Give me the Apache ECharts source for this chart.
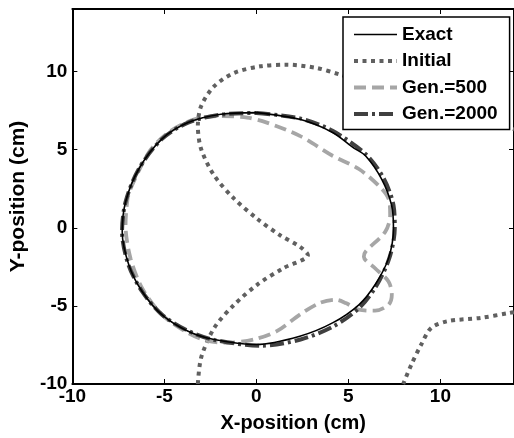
<!DOCTYPE html>
<html>
<head>
<meta charset="utf-8">
<script src="https://cdn.jsdelivr.net/npm/echarts@6/dist/echarts.min.js"></script>
<style>html,body{margin:0;padding:0;background:#fff;}#chart{width:514px;height:438px;}</style>
</head>
<body>
<div id="chart"></div>
<script>
// Series names
const seriesNames = ['Exact', 'Initial', 'Gen.=500', 'Gen.=2000'];
// Axis settings
const xRange = [-10, 14];
const yRange = [-10, 14];
const tickStep = 5;
const xTitle = 'X-position (cm)';
const yTitle = 'Y-position (cm)';

// Exact contour [x, y]
const exactData = [
  [0, 7.37], [2.36, 6.94], [4.14, 6.1], [5.3, 5.1], [5.93, 4.61], [6.8, 3.13], [7.35, 1.43], [7.45, -0.05],
  [7.18, -1.96], [6.45, -3.65], [5.57, -4.93], [4.14, -6.09], [2.36, -6.94], [0, -7.47],
  [-2.29, -7.15], [-3.71, -6.62], [-5.14, -5.56], [-6.21, -4.08], [-6.93, -2.38], [-7.29, -0.26],
  [-7.11, 1.65], [-6.39, 3.76], [-5.14, 5.67], [-3.71, 6.73], [-1.93, 7.26], [0, 7.37]
];

// Initial contour (two visible pieces, null = break)
const initialData = [
  [-3.18, -10], [-3.0, -8.31], [-2.29, -6.41], [-1.21, -4.93], [0.04, -3.65], [1.46, -2.59], [2.8, -1.75],
  [2.36, -1.21], [1.29, -0.48], [0.04, 0.58], [-1.21, 1.86], [-2.29, 3.34], [-3.0, 5.03], [-3.18, 6.52],
  [-3.0, 7.79], [-2.29, 9.06], [-1.21, 9.91], [0.21, 10.33], [1.64, 10.44], [3.25, 10.23], [4.54, 9.8],
  [7.0, 8.9], [10.0, 7.7], [13.66, 6.4], [14, 6.3],
  null,
  [14, -5.4], [13.77, -5.45], [12.18, -5.77], [10.39, -5.98], [9.5, -6.41], [8.96, -7.47], [8.43, -8.74], [7.98, -10]
];

// Gen.=500 contour
const gen500Data = [
  [-6.84, 2.49], [-5.85, 4.82], [-4.78, 6.1], [-3.36, 6.94], [-1.93, 7.15], [-0.5, 7.05], [0.57, 6.73],
  [2.36, 5.88], [4.14, 4.61], [5.57, 3.76], [6.64, 2.7], [7.18, 1.86], [7.27, 0.8], [7.0, -0.26],
  [5.93, -1.53], [5.84, -1.85], [6.45, -2.59], [7.18, -3.44], [7.36, -4.29], [7.18, -4.93], [6.45, -5.31],
  [5.57, -5.24], [4.86, -4.82], [4.32, -4.61], [3.43, -4.82], [2.36, -5.56], [1.11, -6.62], [-0.14, -7.15],
  [-1.57, -7.36], [-2.64, -7.25], [-3.71, -6.73], [-5.14, -5.56], [-6.21, -3.87], [-6.84, -1.96],
  [-7.11, 0.16], [-7.0, 1.86], [-6.84, 2.49]
];

// Gen.=2000 contour
const gen2000Data = [
  [0, 7.35], [2.36, 7.0], [4.14, 6.2], [5.93, 4.72], [6.9, 3.2], [7.45, 1.45], [7.52, -0.05],
  [7.22, -1.96], [6.5, -3.75], [5.6, -5.12], [4.2, -6.3], [2.4, -7.15], [0.3, -7.55],
  [-2.29, -7.18], [-3.71, -6.6], [-5.14, -5.55], [-6.21, -4.08], [-6.95, -2.38], [-7.3, -0.26],
  [-7.11, 1.65], [-6.39, 3.76], [-5.14, 5.67], [-3.71, 6.73], [-1.93, 7.24], [0, 7.35]
];

const fontFam = '"Liberation Sans", Arial, Helvetica, sans-serif';
const chart = echarts.init(document.getElementById('chart'), null, { renderer: 'canvas' });

const axisLineStyle = { color: '#000', width: 2 };
const lblStyle = { color: '#000', fontSize: 19, fontWeight: 'bold', fontFamily: fontFam };

const styles = {
  'Exact': { color: '#000', width: 1.6, type: 'solid' },
  'Initial': { color: '#606060', width: 4, type: [4, 4.5] },
  'Gen.=500': { color: '#a6a6a6', width: 3.8, type: [12, 6] },
  'Gen.=2000': { color: '#404040', width: 4, type: [14, 4, 3, 4] }
};

chart.setOption({
  backgroundColor: '#fff',
  animation: false,
  grid: { left: 71, top: 9, width: 448, height: 377.5, containLabel: false },
  legend: {
    orient: 'vertical',
    left: 343, top: 17,
    data: seriesNames.map(n => ({ name: n, lineStyle: { width: styles[n].width } })),
    icon: 'inherit',
    itemStyle: { opacity: 0 },
    backgroundColor: '#fff',
    borderColor: '#000', borderWidth: 1.5,
    padding: [8, 12, 6, 9],
    itemWidth: 43, itemHeight: 14, itemGap: 7.5,
    textStyle: { color: '#000', fontSize: 19, fontWeight: 'bold', fontFamily: fontFam, lineHeight: 19 },
    z: 10
  },
  xAxis: [{
    type: 'value', min: xRange[0], max: xRange[1], interval: tickStep,
    name: xTitle, nameLocation: 'middle', nameGap: 29,
    nameTextStyle: { color: '#000', fontSize: 20, fontWeight: 'bold', fontFamily: fontFam },
    axisLine: { show: true, onZero: false, lineStyle: axisLineStyle },
    axisTick: { show: true, inside: true, length: 5, lineStyle: { color: '#000', width: 1 } },
    axisLabel: Object.assign({ margin: 3, showMaxLabel: false }, lblStyle),
    splitLine: { show: false }
  }, {
    type: 'value', position: 'top', min: xRange[0], max: xRange[1], interval: tickStep,
    axisLine: { show: true, onZero: false, lineStyle: axisLineStyle },
    axisTick: { show: true, inside: true, length: 5, lineStyle: { color: '#000', width: 1 } },
    axisLabel: { show: false },
    splitLine: { show: false }
  }],
  yAxis: [{
    type: 'value', min: yRange[0], max: yRange[1], interval: tickStep,
    name: yTitle, nameLocation: 'middle', nameGap: 42,
    nameTextStyle: { color: '#000', fontSize: 21, fontWeight: 'bold', fontFamily: fontFam },
    axisLine: { show: true, onZero: false, lineStyle: axisLineStyle },
    axisTick: { show: true, inside: true, length: 5, lineStyle: { color: '#000', width: 1 } },
    axisLabel: Object.assign({ margin: 5, showMaxLabel: false }, lblStyle),
    splitLine: { show: false }
  }, {
    type: 'value', position: 'right', min: yRange[0], max: yRange[1], interval: tickStep,
    axisLine: { show: true, onZero: false, lineStyle: axisLineStyle },
    axisTick: { show: true, inside: true, length: 5 },
    axisLabel: { show: false },
    splitLine: { show: false }
  }],
  series: [
    { name: 'Initial', type: 'line', data: initialData, symbol: 'none', smooth: 0.3, connectNulls: false,
      lineStyle: Object.assign({ cap: 'butt' }, styles['Initial']), itemStyle: { color: styles['Initial'].color }, z: 2 },
    { name: 'Gen.=500', type: 'line', data: gen500Data, symbol: 'none', smooth: 0.3,
      lineStyle: Object.assign({ cap: 'butt' }, styles['Gen.=500']), itemStyle: { color: styles['Gen.=500'].color }, z: 3 },
    { name: 'Gen.=2000', type: 'line', data: gen2000Data, symbol: 'none', smooth: 0.3,
      lineStyle: Object.assign({ cap: 'butt' }, styles['Gen.=2000']), itemStyle: { color: styles['Gen.=2000'].color }, z: 4 },
    { name: 'Exact', type: 'line', data: exactData, symbol: 'none', smooth: 0.3,
      lineStyle: styles['Exact'], itemStyle: { color: styles['Exact'].color }, z: 5 }
  ]
});
</script>
</body>
</html>
